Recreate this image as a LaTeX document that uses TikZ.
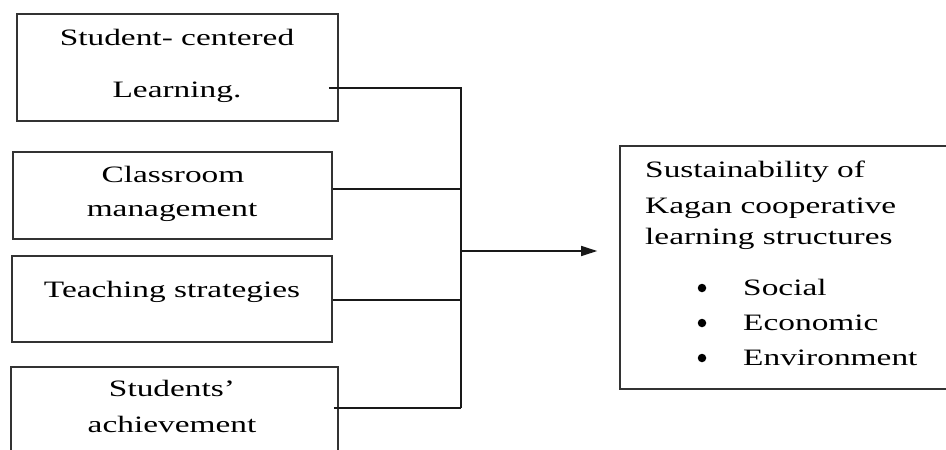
\documentclass[tikz,border=0pt]{standalone}
\usepackage{fontspec}
\setmainfont[FakeStretch=1.42]{Liberation Serif}
\usetikzlibrary{arrows.meta,calc}
\begin{document}
\begin{tikzpicture}[x=1pt,y=-1pt,
  box/.style={draw=black!80, line width=1.6pt, rectangle, inner sep=0pt},
  lbl/.style={anchor=base, inner sep=0pt, font=\fontsize{23.5}{28}\selectfont, text=black},
  lblw/.style={lbl, anchor=base west},
  dot/.style={circle, fill=black, inner sep=0pt, minimum size=8.5},
  conn/.style={draw=black!90, line width=1.4pt}]
\useasboundingbox (0,0) rectangle (946,450);
\clip (0,0) rectangle (946,450);
% boxes
\node[box, minimum width=321, minimum height=107] (b1) at (177.5,67.5) {};
\node[box, minimum width=319, minimum height=87] (b2) at (172.5,195.5) {};
\node[box, minimum width=320, minimum height=86] (b3) at (172,299) {};
\node[box, minimum width=327, minimum height=103] (b4) at (174.5,418.5) {};
\node[box, minimum width=350, minimum height=243] (rb) at (795,267.5) {};
% texts
\node[lbl] (t1a) at (177,45) {Student- centered};
\node[lbl] (t1b) at (177,97) {Learning.};
\node[lbl] (t2a) at (173,182) {Classroom};
\node[lbl] (t2b) at (172,216) {management};
\node[lbl] (t3) at (172,297) {Teaching strategies};
\node[lbl] (t4a) at (172,396) {Students’};
\node[lbl] (t4b) at (172,432) {achievement};
\node[lblw] (r1) at (645,177) {Sustainability of};
\node[lblw] (r2) at (645,213) {Kagan cooperative};
\node[lblw] (r3) at (645,244) {learning structures};
\node[dot] (d1) at (702,288) {};
\node[dot] (d2) at (702,323) {};
\node[dot] (d3) at (702,358) {};
\node[lblw] (r4) at (743,295) {Social};
\node[lblw] (r5) at (743,330) {Economic};
\node[lblw] (r6) at (743,365) {Environment};
% bus
\coordinate (j1) at (461,88);
\coordinate (j2) at (461,189);
\coordinate (j3) at (461,300);
\coordinate (j4) at (461,408);
\coordinate (jm) at (461,251);
\draw[conn] ($(b1.east |- j1)+(-10,0)$) -- (j1) -- (j4);
\draw[conn] (b2.east |- j2) -- (j2);
\draw[conn] (b3.east |- j3) -- (j3);
\draw[conn] ($(b4.east |- j4)+(-5,0)$) -- (j4);
\draw[conn, -{Triangle[length=16,width=10]}, shorten >=22pt] (jm) -- (rb.west |- jm);
\end{tikzpicture}
\end{document}
